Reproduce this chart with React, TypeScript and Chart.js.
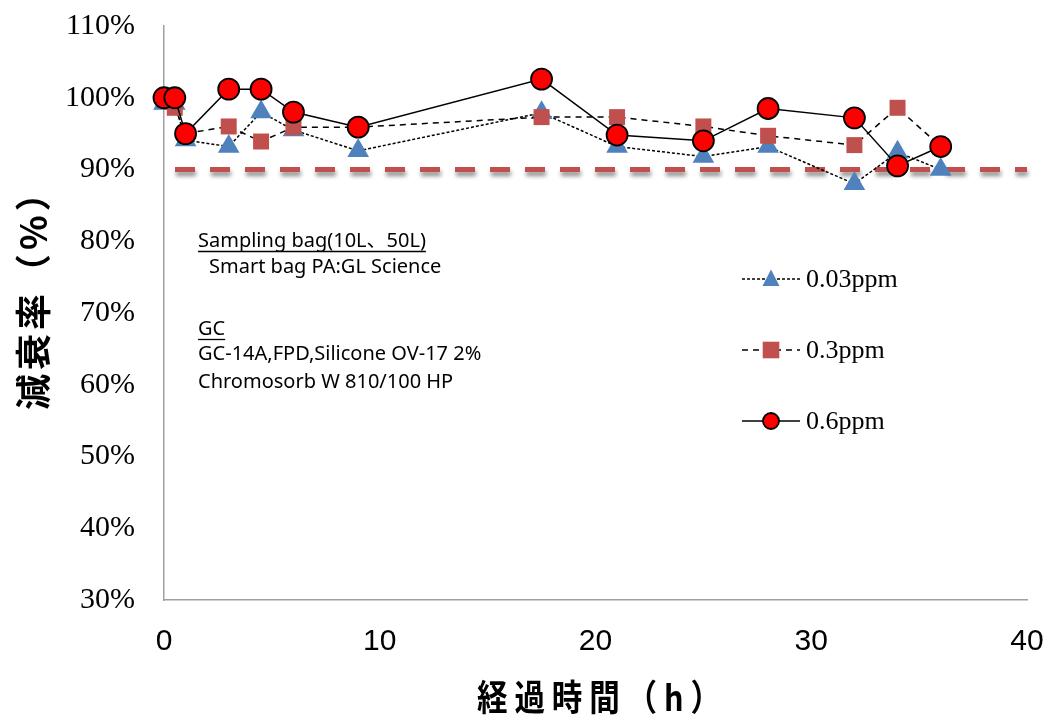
import React, { useEffect, useRef } from 'react';
import { Chart, registerables } from 'chart.js';

Chart.register(...registerables);

// ---- data ----
const hours = [0, 0.5, 1, 3, 4.5, 6, 9, 17.5, 21, 25, 28, 32, 34, 36];
const ppm003 = [99.2, 99.2, 94.1, 93.2, 98.0, 95.5, 92.6, 97.9, 93.2, 91.8, 93.2, 88.0, 92.4, 90.0];
const ppm03 = [100, 98.6, 95.0, 96.0, 93.9, 95.9, 95.9, 97.3, 97.3, 96.0, 94.7, 93.4, 98.6, 93.2];
const ppm06 = [100, 100, 95.0, 101.2, 101.2, 98.0, 95.9, 102.6, 94.8, 94.0, 98.5, 97.2, 90.5, 93.2];
const seriesLabels = ['0.03ppm', '0.3ppm', '0.6ppm'];
const referenceLevel = 90;
const xMin = 0;
const xMax = 40;
const xStep = 10;
const yMin = 30;
const yMax = 110;
const yStep = 10;
const xTitle = '経過時間（h）';
const yTitle = '減衰率（%）';
const noteLines = [
  'Sampling bag(10L、50L)',
  'Smart bag PA:GL Science',
  'GC',
  'GC-14A,FPD,Silicone OV-17 2%',
  'Chromosorb W 810/100 HP',
];

const toPoints = (vals: number[]) => vals.map((v, i) => ({ x: hours[i], y: v }));

const SERIF = "'Liberation Serif', 'Times New Roman', serif";
const SANS = "'Noto Sans', 'Open Sans', 'Noto Sans CJK JP', sans-serif";
const CJK = "'Noto Sans CJK JP', 'Noto Sans', sans-serif";

const zeroPad = (s: any) => {
  s.paddingTop = 0;
  s.paddingBottom = 0;
  s.paddingLeft = 0;
  s.paddingRight = 0;
};

export default function App() {
  const ref = useRef<HTMLCanvasElement>(null);

  useEffect(() => {
    const canvas = ref.current!;

    const overlay = {
      id: 'overlay',
      beforeDatasetDraw(chart: any, args: any) {
        if (args.index === 3) {
          const c = chart.ctx;
          c.save();
          c.shadowColor = 'rgba(0,0,0,0.45)';
          c.shadowBlur = 4;
          c.shadowOffsetX = 1;
          c.shadowOffsetY = 4;
        }
      },
      afterDatasetDraw(chart: any, args: any) {
        if (args.index === 3) chart.ctx.restore();
      },
      afterDraw(chart: any) {
        const c: CanvasRenderingContext2D = chart.ctx;
        // ---- notes ----
        c.save();
        c.fillStyle = '#000';
        c.strokeStyle = '#000';
        c.font = `20px ${SANS}`;
        c.textBaseline = 'alphabetic';
        c.textAlign = 'left';
        const notePos = [
          { x: 198, y: 247, u: true },
          { x: 209, y: 273, u: false },
          { x: 198, y: 335, u: true },
          { x: 198, y: 360, u: false },
          { x: 198, y: 388, u: false },
        ];
        noteLines.forEach((t, i) => {
          const p = notePos[i];
          c.fillText(t, p.x, p.y);
          if (p.u) {
            const w = c.measureText(t).width;
            c.lineWidth = 1.3;
            c.beginPath();
            c.moveTo(p.x, p.y + 4.5);
            c.lineTo(p.x + w, p.y + 4.5);
            c.stroke();
          }
        });
        c.restore();

        // ---- legend ----
        const rows = [279, 350, 421];
        const dashes = [[3, 2], [6, 5], []];
        rows.forEach((y, i) => {
          c.save();
          c.strokeStyle = '#000';
          c.lineWidth = 1.5;
          c.setLineDash(dashes[i]);
          c.beginPath();
          c.moveTo(742, y);
          c.lineTo(800, y);
          c.stroke();
          c.setLineDash([]);
          const mx = 771;
          if (i === 0) {
            c.fillStyle = '#4F81BD';
            c.beginPath();
            c.moveTo(mx, y - 9.5);
            c.lineTo(mx + 8.5, y + 7);
            c.lineTo(mx - 8.5, y + 7);
            c.closePath();
            c.fill();
          } else if (i === 1) {
            c.fillStyle = '#C0504D';
            c.fillRect(mx - 8.3, y - 8.3, 16.6, 16.6);
          } else {
            c.fillStyle = '#FF0000';
            c.lineWidth = 1.8;
            c.beginPath();
            c.arc(mx, y, 8, 0, Math.PI * 2);
            c.fill();
            c.stroke();
          }
          c.fillStyle = '#000';
          c.font = `26px ${SERIF}`;
          c.textBaseline = 'middle';
          c.textAlign = 'left';
          c.fillText(seriesLabels[i], 806, y + 1);
          c.restore();
        });

        // ---- axis titles ----
        c.save();
        c.fillStyle = '#000';
        c.font = `bold 36px ${CJK}`;
        c.textBaseline = 'middle';
        c.textAlign = 'left';
        c.translate(477, 697);
        c.scale(0.85, 1);
        (c as any).letterSpacing = '8px';
        c.fillText(xTitle, 0, 0);
        c.restore();

        c.save();
        c.fillStyle = '#000';
        c.font = `bold 36px ${CJK}`;
        c.textBaseline = 'middle';
        c.textAlign = 'left';
        c.translate(33, 410);
        c.rotate(-Math.PI / 2);
        (c as any).letterSpacing = '4px';
        c.fillText(yTitle, 0, 0);
        c.restore();
      },
    };

    const chart = new Chart(canvas, {
      type: 'line',
      data: {
        datasets: [
          {
            label: seriesLabels[2],
            data: toPoints(ppm06),
            borderColor: '#000',
            borderWidth: 1.5,
            pointStyle: 'circle',
            pointRadius: 10.5,
            pointBackgroundColor: '#FF0000',
            pointBorderColor: '#000',
            pointBorderWidth: 1.8,
            tension: 0,
            clip: false,
          },
          {
            label: seriesLabels[1],
            data: toPoints(ppm03),
            borderColor: '#000',
            borderWidth: 1.5,
            borderDash: [6, 5],
            pointStyle: 'rect',
            pointRadius: 11.3,
            pointBackgroundColor: '#C0504D',
            pointBorderWidth: 0,
            tension: 0,
            clip: false,
          },
          {
            label: seriesLabels[0],
            data: toPoints(ppm003),
            borderColor: '#000',
            borderWidth: 1.5,
            borderDash: [3, 2],
            pointStyle: 'triangle',
            pointRadius: 12.5,
            pointBackgroundColor: '#4F81BD',
            pointBorderWidth: 0,
            tension: 0,
            clip: false,
          },
          {
            label: 'ref',
            data: [
              { x: xMin, y: referenceLevel },
              { x: xMax, y: referenceLevel },
            ],
            borderColor: '#C0504D',
            borderWidth: 5,
            borderDash: [20, 15],
            borderDashOffset: 24,
            borderCapStyle: 'butt',
            pointRadius: 0,
            clip: false,
          },
        ] as any,
      },
      options: {
        animation: false,
        responsive: false,
        events: [],
        layout: { padding: { left: 0, top: 26, right: 20, bottom: 0 } },
        plugins: {
          legend: { display: false },
          tooltip: { enabled: false },
          title: { display: false },
        },
        scales: {
          x: {
            type: 'linear',
            min: xMin,
            max: xMax,
            grid: { display: false, drawTicks: false },
            border: { display: true, color: '#A0A0A0', width: 1.5 },
            ticks: {
              stepSize: xStep,
              color: '#000',
              padding: 24,
              font: { family: "'Liberation Sans Narrow', 'Liberation Sans', Arial, sans-serif", size: 30 },
            },
            afterFit: (s: any) => {
              s.height = 118;
              zeroPad(s);
            },
          },
          y: {
            type: 'linear',
            min: yMin,
            max: yMax,
            grid: { display: false, drawTicks: false },
            border: { display: true, color: '#A0A0A0', width: 1.5 },
            ticks: {
              stepSize: yStep,
              color: '#000',
              padding: 29,
              font: { family: SERIF, size: 30 },
              callback: (v: any) => `${v}%`,
            },
            afterFit: (s: any) => {
              s.width = 164;
              zeroPad(s);
            },
          },
        },
      } as any,
      plugins: [overlay],
    });

    return () => chart.destroy();
  }, []);

  return (
    <div style={{ position: 'absolute', left: 0, top: 0, width: 1047, height: 718, background: '#fff' }}>
      <canvas ref={ref} width={1047} height={718} style={{ display: 'block', width: 1047, height: 718 }} />
    </div>
  );
}
